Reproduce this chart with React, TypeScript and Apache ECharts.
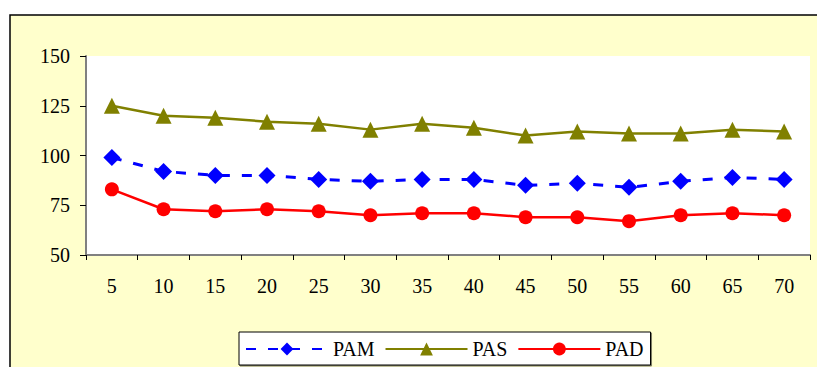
import React, { useEffect, useRef } from "react";
import * as echarts from "echarts";

const categories = ["5", "10", "15", "20", "25", "30", "35", "40", "45", "50", "55", "60", "65", "70"];
const pam = [99, 92, 90, 90, 88, 87, 88, 88, 85, 86, 84, 87, 89, 88];
const pas = [125, 120, 119, 117, 116, 113, 116, 114, 110, 112, 111, 111, 113, 112];
const pad = [83, 73, 72, 73, 72, 70, 71, 71, 69, 69, 67, 70, 71, 70];

const FONT = "Liberation Serif";

export default function App() {
  const ref = useRef<HTMLDivElement>(null);
  useEffect(() => {
    if (!ref.current) return;
    const chart = echarts.init(ref.current, null, { renderer: "svg" });
    chart.setOption({
      animation: false,
      textStyle: { fontFamily: FONT },
      graphic: [
        {
          type: "rect",
          z: -10,
          shape: { x: 10, y: 15, width: 830, height: 380 },
          style: { fill: "#FFFFCC", stroke: "#000", lineWidth: 1.5 },
          silent: true,
        },
      ],
      grid: {
        left: 86,
        top: 56,
        right: 7,
        bottom: 112,
        show: true,
        backgroundColor: "#FFFFFF",
        borderWidth: 0,
      },
      xAxis: {
        type: "category",
        data: categories,
        boundaryGap: true,
        axisLine: { lineStyle: { color: "#808080", width: 2 } },
        axisTick: { show: true, length: 5, lineStyle: { color: "#000", width: 1 } },
        axisLabel: { color: "#000", fontSize: 20, fontFamily: FONT, margin: 21 },
        splitLine: { show: false },
      },
      yAxis: {
        type: "value",
        min: 50,
        max: 150,
        interval: 25,
        axisLine: { show: true, lineStyle: { color: "#808080", width: 2 } },
        axisTick: { show: true, length: 6, lineStyle: { color: "#000", width: 1 } },
        axisLabel: { color: "#000", fontSize: 20, fontFamily: FONT, margin: 16 },
        splitLine: { show: false },
      },
      legend: {
        left: 239,
        top: 332,
        width: 460,
        padding: [7, 7, 6, 6],
        itemGap: 10,
        itemWidth: 82,
        itemHeight: 16,
        backgroundColor: "#FFFFFF",
        borderColor: "#000",
        borderWidth: 1,
        shadowColor: "rgba(0,0,0,0.5)",
        shadowOffsetX: 1,
        shadowOffsetY: 1,
        shadowBlur: 1,
        textStyle: { color: "#000", fontSize: 20, fontFamily: FONT },
        data: ["PAM", "PAS", "PAD"],
      },
      series: [
        {
          name: "PAM",
          type: "line",
          data: pam,
          symbol: "diamond",
          symbolSize: 17,
          itemStyle: { color: "#0000FF" },
          lineStyle: { color: "#0000FF", width: 3, type: [10, 12] },
        },
        {
          name: "PAS",
          type: "line",
          data: pas,
          symbol: "triangle",
          symbolSize: 16,
          itemStyle: { color: "#808000" },
          lineStyle: { color: "#808000", width: 2.5 },
        },
        {
          name: "PAD",
          type: "line",
          data: pad,
          symbol: "circle",
          symbolSize: 14,
          itemStyle: { color: "#FF0000" },
          lineStyle: { color: "#FF0000", width: 2.5 },
        },
      ],
    });
    return () => chart.dispose();
  }, []);
  return (
    <div
      ref={ref}
      style={{ position: "absolute", left: 0, top: 0, width: 817, height: 367, background: "#FFFFFF" }}
    />
  );
}
